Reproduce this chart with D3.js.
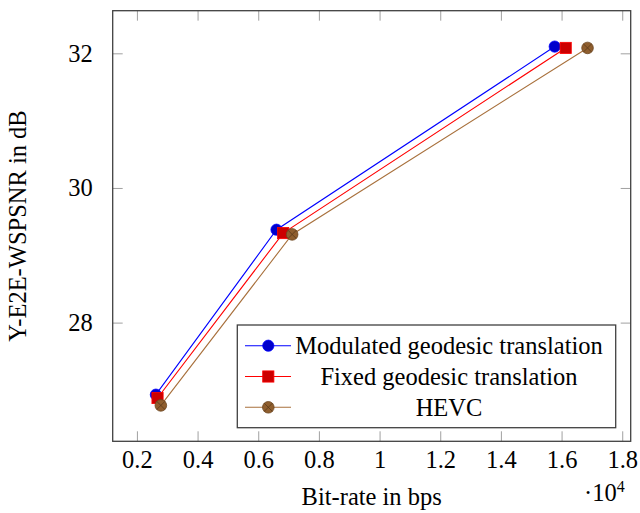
<!DOCTYPE html>
<html>
<head>
<meta charset="utf-8">
<script src="https://cdn.jsdelivr.net/npm/d3@7"></script>
<style>
  body { margin: 0; background: #fff; }
  text { font-family: "Liberation Serif", "Times New Roman", serif; fill: #000; }
</style>
</head>
<body>
<svg id="chart" width="640" height="513"></svg>
<script>
// data
const seriesNames = ["Modulated geodesic translation", "Fixed geodesic translation", "HEVC"];
const modulated = [[2625, 26.93], [6602, 29.38], [15774, 32.10]];
const fixedGeo = [[2680, 26.88], [6822, 29.33], [16136, 32.08]];
const hevc = [[2789, 26.77], [7118, 29.31], [16856, 32.08]];
const xTicks = [2000, 4000, 6000, 8000, 10000, 12000, 14000, 16000, 18000];
const yTicks = [28, 30, 32];

const series = [
  { name: seriesNames[0], values: modulated, line: "#0000ff", fill: "#0000cc", mark: "circle" },
  { name: seriesNames[1], values: fixedGeo, line: "#ff0000", fill: "#cc0000", mark: "square" },
  { name: seriesNames[2], values: hevc, line: "#a8703c", fill: "#8f5e2e", mark: "otimes" }
];

const svg = d3.select("#chart");
const pLeft = 112.7, pRight = 630.7, pTop = 10.7, pBottom = 441.3;

// pgfplots style: 10% enlargement of the data range
const xs = series.flatMap(s => s.values.map(d => d[0]));
const ys = series.flatMap(s => s.values.map(d => d[1]));
const xPad = (d3.max(xs) - d3.min(xs)) * 0.1;
const yPad = (d3.max(ys) - d3.min(ys)) * 0.1;

const x = d3.scaleLinear().domain([d3.min(xs) - xPad, d3.max(xs) + xPad]).range([pLeft, pRight]);
const y = d3.scaleLinear().domain([d3.min(ys) - yPad, d3.max(ys) + yPad]).range([pBottom, pTop]);

const fmt = v => d3.format("~g")(v / 10000);

function styleAxis(g) {
  g.select(".domain").remove();
  g.selectAll(".tick line").attr("stroke", "#a0a0a0").attr("stroke-width", 1);
}

// ticks on all four sides, pointing inward
svg.append("g").attr("transform", `translate(0,${pBottom})`)
  .call(d3.axisBottom(x).tickValues(xTicks).tickSize(-10).tickPadding(9).tickFormat(fmt))
  .call(styleAxis)
  .call(g => g.selectAll("text").attr("font-size", 24.5).attr("dy", "0.71em")
    .style("font-family", "Liberation Serif"));

svg.append("g").attr("transform", `translate(0,${pTop})`)
  .call(d3.axisTop(x).tickValues(xTicks).tickSize(-10).tickFormat(""))
  .call(styleAxis);

svg.append("g").attr("transform", `translate(${pLeft},0)`)
  .call(d3.axisLeft(y).tickValues(yTicks).tickSize(-10).tickPadding(20).tickFormat(d3.format("d")))
  .call(styleAxis)
  .call(g => g.selectAll("text").attr("font-size", 24.5)
    .style("font-family", "Liberation Serif"));

svg.append("g").attr("transform", `translate(${pRight},0)`)
  .call(d3.axisRight(y).tickValues(yTicks).tickSize(-10).tickFormat(""))
  .call(styleAxis);

// frame
svg.append("rect")
  .attr("x", pLeft).attr("y", pTop)
  .attr("width", pRight - pLeft).attr("height", pBottom - pTop)
  .attr("fill", "none").attr("stroke", "#404040").attr("stroke-width", 1.3);

const line = d3.line().x(d => x(d[0])).y(d => y(d[1]));

function drawMark(g, type, cx, cy, s) {
  if (type === "circle") {
    g.append("circle").attr("cx", cx).attr("cy", cy).attr("r", 5.6)
      .attr("fill", s.fill).attr("stroke", s.line).attr("stroke-width", 0.8);
  } else if (type === "square") {
    g.append("rect").attr("x", cx - 5.6).attr("y", cy - 5.6).attr("width", 11.2).attr("height", 11.2)
      .attr("fill", s.fill).attr("stroke", s.line).attr("stroke-width", 0.8);
  } else {
    g.append("circle").attr("cx", cx).attr("cy", cy).attr("r", 5.8)
      .attr("fill", s.fill).attr("stroke", "#6b4520").attr("stroke-width", 0.8);
    const k = 5.8 * Math.SQRT1_2;
    g.append("path")
      .attr("d", `M${cx - k},${cy - k}L${cx + k},${cy + k}M${cx - k},${cy + k}L${cx + k},${cy - k}`)
      .attr("stroke", "#5a3a1a").attr("stroke-width", 0.8);
  }
}

const plot = svg.append("g");
series.forEach(s => {
  plot.append("path").datum(s.values).attr("d", line)
    .attr("fill", "none").attr("stroke", s.line).attr("stroke-width", 1.1);
  s.values.forEach(d => drawMark(plot, s.mark, x(d[0]), y(d[1]), s));
});

// legend
const lg = svg.append("g");
lg.append("rect").attr("x", 237.3).attr("y", 325).attr("width", 378.4).attr("height", 102.7)
  .attr("fill", "#fff").attr("stroke", "#404040").attr("stroke-width", 1.3);
series.forEach((s, i) => {
  const ry = 345.7 + i * 30.8;
  lg.append("line").attr("x1", 245).attr("x2", 291).attr("y1", ry).attr("y2", ry)
    .attr("stroke", s.line).attr("stroke-width", 1.1);
  drawMark(lg, s.mark, 268.3, ry, s);
  lg.append("text").attr("x", 449).attr("y", ry).attr("dy", "0.34em")
    .attr("text-anchor", "middle").attr("font-size", 24.5).text(s.name);
});

// axis labels
svg.append("text").attr("x", (pLeft + pRight) / 2).attr("y", 505)
  .attr("text-anchor", "middle").attr("font-size", 24.5).text("Bit-rate in bps");

const sc = svg.append("text").attr("x", 584).attr("y", 501).attr("font-size", 24.5);
sc.append("tspan").text("\u00b710");
sc.append("tspan").attr("dy", -9).attr("font-size", 16).text("4");

svg.append("text")
  .attr("transform", `translate(26,${(pTop + pBottom) / 2}) rotate(-90)`)
  .attr("text-anchor", "middle").attr("font-size", 24.5).text("Y-E2E-WSPSNR in dB");
</script>
</body>
</html>
